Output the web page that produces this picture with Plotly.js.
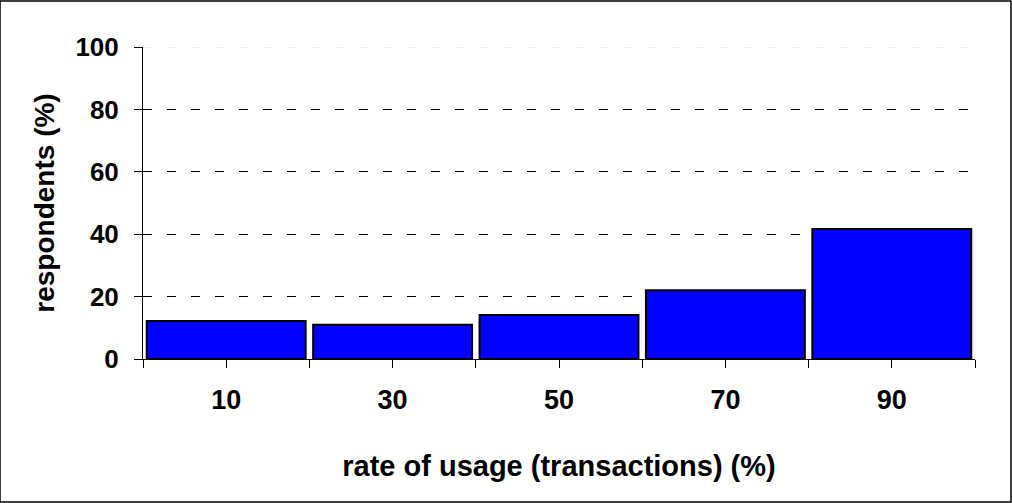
<!DOCTYPE html>
<html><head><meta charset="utf-8">
<script src="https://cdn.plot.ly/plotly-3.0.1.min.js"></script>
<style>html,body{margin:0;padding:0;background:#fff;}#chart{width:1012px;height:503px;}</style>
</head><body><div id="chart"></div>
<script>
const categories = [10, 30, 50, 70, 90];
const respondents = [12.2, 11, 14.1, 22, 41.7];
const xTickVals = [0, 10, 20, 30, 40, 50, 60, 70, 80, 90, 100];
const xTickText = ['', '10', '', '30', '', '50', '', '70', '', '90', ''];
const yTickVals = [0, 20, 40, 60, 80, 100];
const yGridVals = [20, 40, 60, 80];

const font = {family: 'Liberation Sans, Arial, sans-serif', color: '#000', weight: 700};
const f = s => Object.assign({}, font, {size: s});

const trace = {
  type: 'bar', x: categories, y: respondents, width: 19.1,
  marker: {color: '#0000FF', line: {color: '#000', width: 2}},
  hoverinfo: 'skip'
};

const layout = {
  width: 1012, height: 503,
  margin: {l: 143, r: 37, t: 47, b: 144},
  paper_bgcolor: '#fff', plot_bgcolor: '#fff',
  showlegend: false,
  font: font,
  xaxis: {
    range: [0, 100], tickvals: xTickVals, ticktext: xTickText,
    ticks: 'outside', ticklen: 8, tickcolor: '#000', tickwidth: 1,
    showline: true, linecolor: '#000', linewidth: 1, showgrid: false, zeroline: false,
    tickfont: f(27), ticklabelstandoff: 9,
    title: {text: 'rate of usage (transactions) (%)', font: f(29), standoff: 41}
  },
  yaxis: {
    range: [0, 100], tickvals: yTickVals,
    ticks: 'outside', ticklen: 8, tickcolor: '#000', tickwidth: 1,
    showline: true, linecolor: '#000', linewidth: 1,
    showgrid: false, zeroline: false,
    tickfont: f(26), ticklabelstandoff: 10,
    title: {text: 'respondents (%)', font: f(28), standoff: 12}
  },
  yaxis2: {
    overlaying: 'y', matches: 'y', range: [0, 100], tickvals: yGridVals,
    ticks: '', showticklabels: false,
    showgrid: true, gridcolor: '#000', griddash: '9px,15px', gridwidth: 1,
    zeroline: false, showline: false
  },
  yaxis3: {
    overlaying: 'y', matches: 'y', range: [0, 100], tickvals: yTickVals,
    ticks: 'inside', ticklen: 8, tickcolor: '#000', showticklabels: false,
    showgrid: false, zeroline: false, showline: false
  },
  shapes: [
    {type: 'line', xref: 'paper', yref: 'y', x0: 0, x1: 1, y0: 100, y1: 100, layer: 'below',
     line: {color: '#e4e4e4', width: 1, dash: '9px,15px'}},
    {type: 'rect', xref: 'paper', yref: 'paper', x0: -143/832, x1: 1 + 36/832, y0: -143/312, y1: 1 + 46/312,
     line: {color: '#000', width: 1.5}, fillcolor: 'rgba(0,0,0,0)'}
  ]
};

const ghost2 = {type: 'scatter', x: [0], y: [0], yaxis: 'y2', mode: 'markers', marker: {opacity: 0}, hoverinfo: 'skip'};
const ghost3 = {type: 'scatter', x: [0], y: [0], yaxis: 'y3', mode: 'markers', marker: {opacity: 0}, hoverinfo: 'skip'};

Plotly.newPlot('chart', [ghost2, trace, ghost3], layout, {displayModeBar: false, staticPlot: true});
</script>
</body></html>
